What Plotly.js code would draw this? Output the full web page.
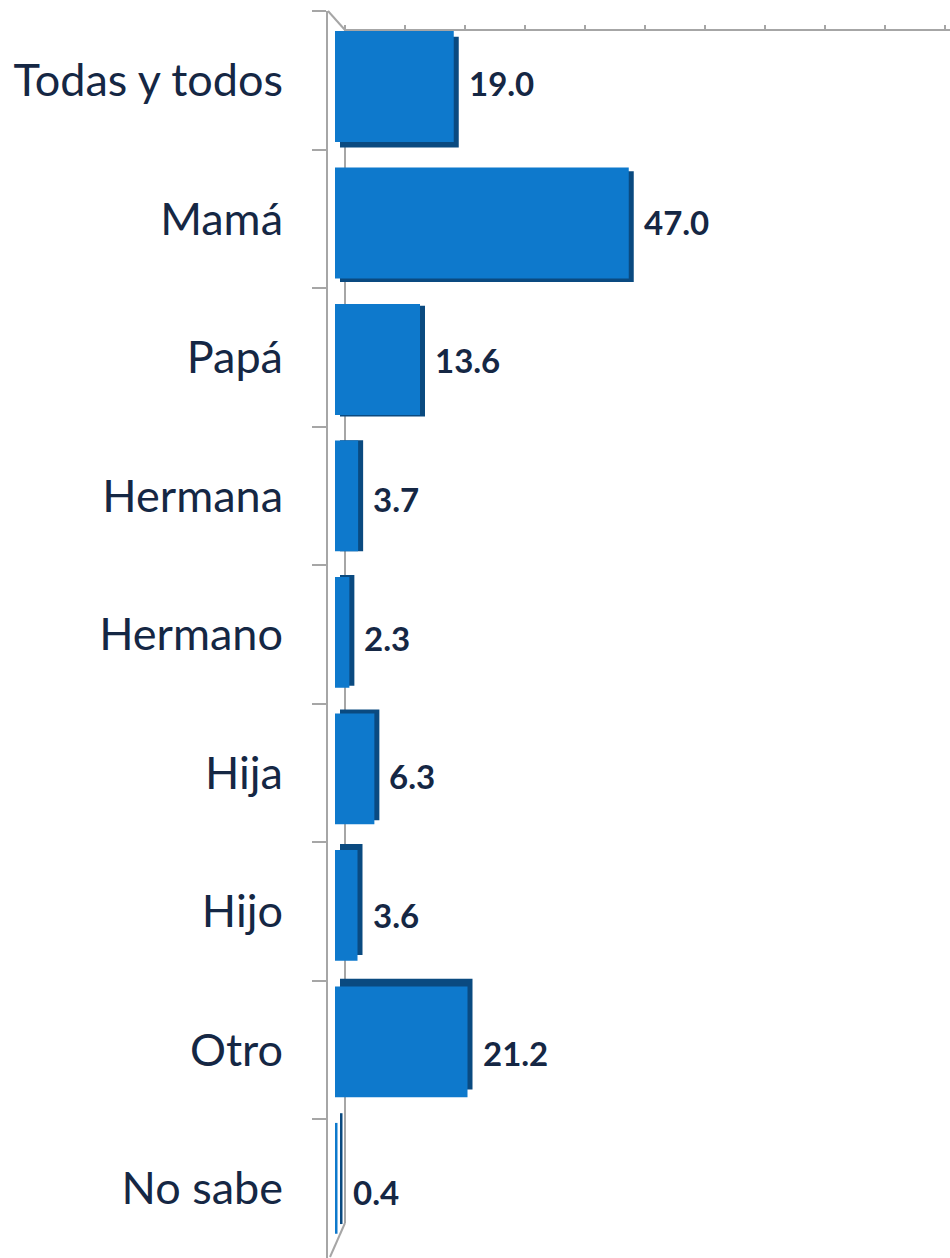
<!DOCTYPE html>
<html>
<head>
<meta charset="utf-8">
<script src="https://cdn.plot.ly/plotly-3.0.1.min.js"></script>
<style>html,body{margin:0;padding:0;background:#fff;}#chart{width:950px;height:1258px;}</style>
</head>
<body>
<div id="chart"></div>
<script>
const categories = ["Todas y todos", "Mamá", "Papá", "Hermana", "Hermano", "Hija", "Hijo", "Otro", "No sabe"];
const values = [19.0, 47.0, 13.6, 3.7, 2.3, 6.3, 3.6, 21.2, 0.4];

const W = 950, H = 1258;
const L = 328, T = 11, R = 0, B = 0;
const PW = W - L - R, PH = H - T - B;
const px = x => (x - L) / PW;
const py = y => 1 - (y - T) / PH;

const n = categories.length;
const barW = 0.8;
const faceOffset = categories.map((c, i) => -barW / 2 + 0.045 - 0.12 * i / (n - 1));
const shadowOffset = categories.map((c, i) => faceOffset[i] + 0.04 - 0.11 * i / (n - 1));

const gray = '#A6A6A6';
const labelColor = '#152744';

const shadow = {
  type: 'bar', orientation: 'h', y: categories, x: values,
  base: 0.8, width: barW, offset: shadowOffset,
  marker: {color: '#0A4A80', line: {width: 0}},
  hoverinfo: 'skip', showlegend: false
};
const face = {
  type: 'bar', orientation: 'h', y: categories, x: values,
  width: barW, offset: faceOffset,
  marker: {color: '#0E79CC', line: {width: 0}},
  hoverinfo: 'skip', showlegend: false
};

const annotations = categories.map((c, i) => ({
  x: values[i], y: c, xref: 'x', yref: 'y',
  text: '<b>' + values[i].toFixed(1) + '</b>', showarrow: false,
  xanchor: 'left', yanchor: 'middle', xshift: 13, yshift: -3,
  font: {family: 'Lato, "Open Sans", sans-serif', size: 33, color: labelColor}
}));

const line = (x0, y0, x1, y1) => ({
  type: 'line', xref: 'paper', yref: 'paper',
  x0: px(x0), y0: py(y0), x1: px(x1), y1: py(y1),
  line: {color: gray, width: 2}, layer: 'below'
});

const layout = {
  width: W, height: H,
  margin: {l: L, r: R, t: T, b: B, pad: 0},
  paper_bgcolor: '#fff', plot_bgcolor: 'rgba(0,0,0,0)',
  barmode: 'overlay',
  showlegend: false,
  xaxis: {
    range: [-1.12, (PW - 7) / 6.25], showgrid: false, zeroline: false,
    showline: false, showticklabels: false, ticks: '', fixedrange: true
  },
  xaxis2: {
    overlaying: 'x', side: 'top', anchor: 'free', position: py(30),
    range: [-(345 - L) / 6, 100 + (W - 945) / 6], dtick: 10, tick0: 0,
    ticks: 'outside', ticklen: 5, tickwidth: 2, tickcolor: gray,
    showline: false, showgrid: false, zeroline: false, showticklabels: false
  },
  yaxis: {
    type: 'category', autorange: 'reversed',
    showline: true, linecolor: gray, linewidth: 2,
    ticks: 'outside', tickson: 'boundaries', ticklen: 14, tickwidth: 2, tickcolor: gray,
    ticklabelstandoff: 34,
    showgrid: false, zeroline: false,
    tickfont: {family: 'Lato, "Open Sans", sans-serif', size: 45, color: labelColor}
  },
  shapes: [
    line(345, 30, 950, 30),
    line(328, 11, 345, 30),
    line(345, 30, 345, 1223),
    line(345, 1223, 330, 1257)
  ],
  annotations: annotations
};

const axis2 = {type: 'scatter', x: [0], y: [categories[0]], xaxis: 'x2', mode: 'markers',
  marker: {opacity: 0}, hoverinfo: 'skip', showlegend: false};

Plotly.newPlot('chart', [shadow, face, axis2], layout, {staticPlot: true, displayModeBar: false});
</script>
</body>
</html>
